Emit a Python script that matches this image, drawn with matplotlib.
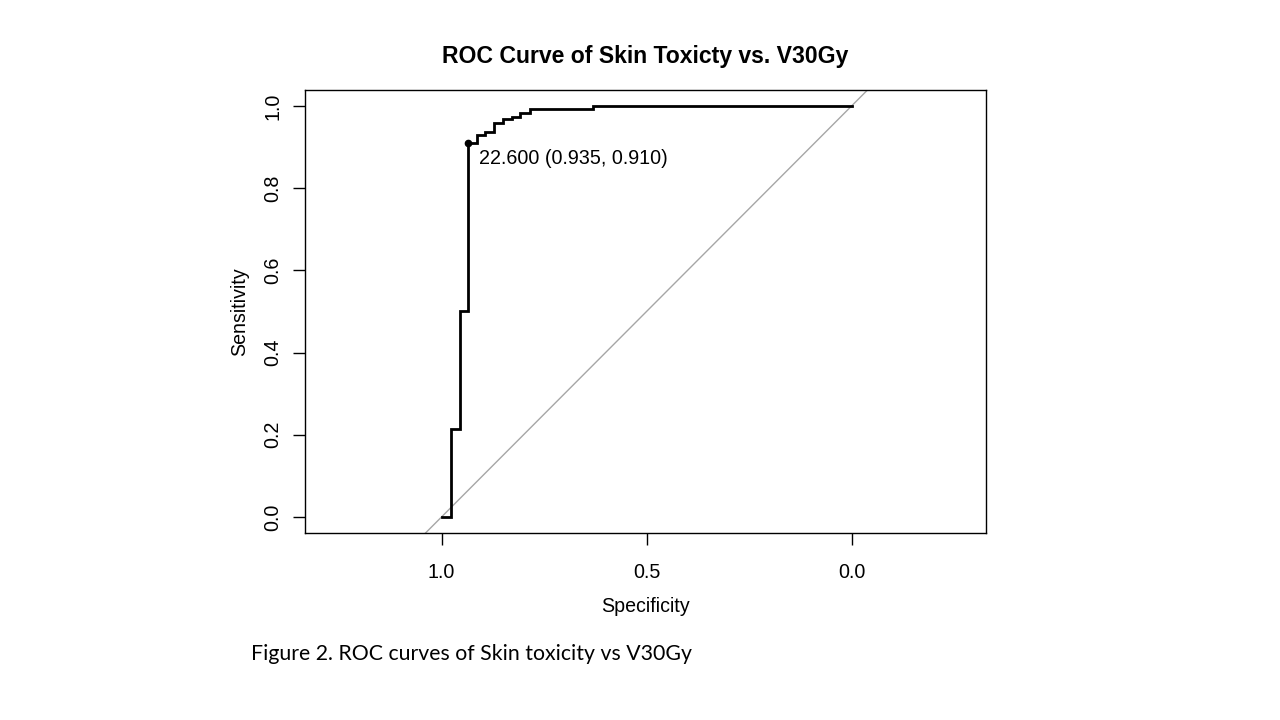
import matplotlib
matplotlib.use("Agg")
import matplotlib.pyplot as plt

# ROC curve vertices (specificity, sensitivity), specificity decreasing
specificity = [1.0, 0.978, 0.955, 0.935, 0.914, 0.894, 0.873, 0.849, 0.829, 0.808, 0.784, 0.631, 0.0]
sensitivity = [0.0, 0.213, 0.502, 0.910, 0.929, 0.937, 0.959, 0.968, 0.974, 0.984, 0.992, 1.0, 1.0]

best_threshold = 22.600
best_spec = 0.935
best_sens = 0.910

x_ticks = [1.0, 0.5, 0.0]
y_ticks = [0.0, 0.2, 0.4, 0.6, 0.8, 1.0]

title = "ROC Curve of Skin Toxicty vs. V30Gy"
caption = "Figure 2. ROC curves of Skin toxicity vs V30Gy"

plt.rcParams['font.family'] = ['Liberation Sans', 'DejaVu Sans']

fig = plt.figure(figsize=(12.8, 7.2), dpi=100)
fig.patch.set_facecolor('white')
ax = fig.add_axes([305/1280, 1-533/720, 681/1280, 443/720])

ax.set_xlim(1.333, -0.328)
ax.set_ylim(-0.039, 1.039)

# diagonal reference
ax.axline((1.0, 0.0), (0.0, 1.0), color='#a6a6a6', lw=1.0, zorder=1)

ax.plot(specificity, sensitivity, drawstyle='steps-post', color='black', lw=2.0,
        solid_joinstyle='miter', zorder=3)
ax.plot([best_spec], [best_sens], 'o', color='black', markersize=4.5, zorder=4)
ax.annotate(f"{best_threshold:.3f} ({best_spec:.3f}, {best_sens:.3f})",
            xy=(best_spec, best_sens), xytext=(7.5, -11), textcoords='offset points',
            ha='left', va='center', fontsize=14.2)

ax.set_xticks(x_ticks)
ax.set_xticklabels([f"{t:.1f}" for t in x_ticks])
ax.set_yticks(y_ticks)
ax.set_yticklabels([f"{t:.1f}" for t in y_ticks], rotation=90, va='center')
ax.tick_params(axis='both', direction='out', length=8.6, width=1.0, labelsize=14.2,
               color='black')
ax.tick_params(axis='x', pad=13)
ax.tick_params(axis='y', pad=7.5)

for s in ax.spines.values():
    s.set_linewidth(1.0)
    s.set_color('black')

ax.set_xlabel("Specificity", fontsize=14.1)
ax.xaxis.set_label_coords(0.5, (533-606)/443)
ax.xaxis.label.set_va('center')
ax.set_ylabel("Sensitivity", fontsize=14.1)
ax.yaxis.set_label_coords((240-305)/681, 0.5)
ax.yaxis.label.set_va('center')

fig.text((305+986)/2/1280, 1-63/720, title, ha='center', va='baseline',
         fontsize=16.6, fontweight='bold')
fig.text(251/1280, 1-660/720, caption, ha='left', va='baseline',
         fontsize=15.3, family=['Lato', 'DejaVu Sans'])

fig.savefig("out.png", dpi=100, facecolor='white')
